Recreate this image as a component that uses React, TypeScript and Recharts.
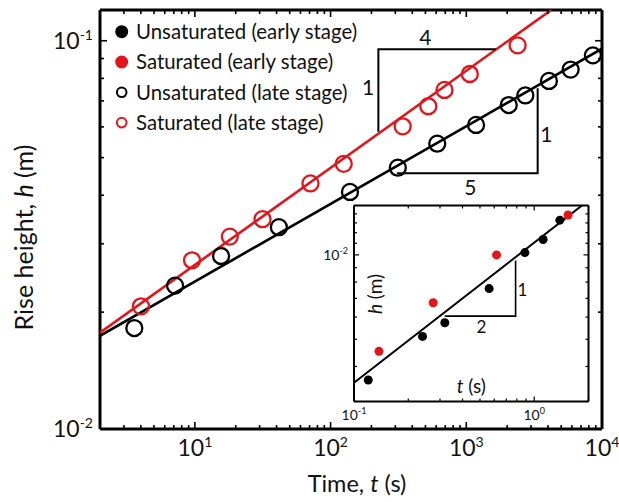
import React from 'react';
import { ScatterChart, Scatter, XAxis, YAxis, Legend } from 'recharts';

const FONT = 'Lato, "Open Sans", sans-serif';
const RED = '#e5141b';
const BLACK = '#000000';

// ---------- main chart data ----------
const unsatLateT = [3.58, 7.15, 15.6, 41.6, 139, 313, 611, 1180, 2055, 2723, 4064, 5875, 8570];
const unsatLateH = [0.0182, 0.0234, 0.0279, 0.0331, 0.0408, 0.0471, 0.0543, 0.0607, 0.0683, 0.0723, 0.0788, 0.0843, 0.0917];
const satLateT = [4.01, 9.53, 18.1, 31.5, 71.1, 125, 340, 525, 691, 1062, 2390];
const satLateH = [0.0207, 0.0272, 0.0313, 0.0347, 0.0429, 0.0482, 0.0602, 0.0678, 0.0747, 0.0821, 0.0973];
const unsatFitT = [2, 10000];
const unsatFitH = [0.01738, 0.0954];
const satFitT = [2, 4226];
const satFitH = [0.0177, 0.12];
const triUpperT = [225, 225, 1651];
const triUpperH = [0.0583, 0.0951, 0.0951];
const triLowerT = [308, 3357, 3357];
const triLowerH = [0.0456, 0.0456, 0.0754];
const slopeText = ['4', '1', '1', '5'];
const slopeT = [499, 189, 3890, 1072];
const slopeH = [0.1022, 0.076, 0.0572, 0.0418];
const mainXTicks = [2, 3, 4, 5, 6, 7, 8, 9, 10, 20, 30, 40, 50, 60, 70, 80, 90, 100, 200, 300, 400, 500, 600, 700, 800, 900, 1000, 2000, 3000, 4000, 5000, 6000, 7000, 8000, 9000, 10000];
const mainXMajor = [10, 100, 1000, 10000];
const mainYTicks = [0.01, 0.02, 0.03, 0.04, 0.05, 0.06, 0.07, 0.08, 0.09, 0.1];
const mainYMajor = [0.01, 0.1];
const legendLabels = ['Unsaturated (early stage)', 'Saturated (early stage)', 'Unsaturated (late stage)', 'Saturated (late stage)'];
const legendColors = [BLACK, RED, BLACK, RED];
const legendFilled = [true, true, false, false];

// ---------- inset data ----------
const unsatEarlyT = [0.12, 0.24, 0.319, 0.562, 0.887, 1.12, 1.387];
const unsatEarlyH = [0.00358, 0.00512, 0.00573, 0.00758, 0.01019, 0.01135, 0.0133];
const satEarlyT = [0.1376, 0.275, 0.618, 1.54];
const satEarlyH = [0.00453, 0.00675, 0.01, 0.01388];
const insetFitT = [0.1, 1.84];
const insetFitH = [0.0035, 0.015];
const insetTriT = [0.319, 0.788, 0.788];
const insetTriH = [0.00605, 0.00605, 0.00955];
const insetSlopeText = ['1', '2'];
const insetSlopeT = [0.861, 0.51];
const insetSlopeH = [0.00748, 0.00555];
const insetXTicks = [0.1, 0.2, 0.3, 0.4, 0.5, 0.6, 0.7, 0.8, 0.9, 1, 2];
const insetXMajor = [0.1, 1];
const insetYTicks = [0.003, 0.004, 0.005, 0.006, 0.007, 0.008, 0.009, 0.01, 0.011, 0.012, 0.013, 0.014];
const insetYMajor = [0.01];

const zip = (ts: number[], hs: number[]) => ts.map((t, i) => ({ t, h: hs[i] }));
const zipLabels = (ts: number[], hs: number[], txt: string[]) => ts.map((t, i) => ({ t, h: hs[i], txt: txt[i] }));

type TickCfg = {
  side: 'bottom' | 'top' | 'left' | 'right';
  majors: number[];
  majorLen: number;
  minorLen: number;
  label: boolean;
  fs: number;
  sfs: number;
  off: number;
  sw: number;
};

const isMajor = (v: number, majors: number[]) => majors.some((m) => Math.abs(m - v) / m < 1e-6);

function renderTick(p: any, c: TickCfg) {
  const { x, y, payload } = p;
  const v = payload.value;
  const maj = isMajor(v, c.majors);
  const len = maj ? c.majorLen : c.minorLen;
  let x2 = x;
  let y2 = y;
  if (c.side === 'bottom') y2 = y - len;
  if (c.side === 'top') y2 = y + len;
  if (c.side === 'left') x2 = x + len;
  if (c.side === 'right') x2 = x - len;
  let lab = null;
  if (c.label && maj) {
    const e = Math.round(Math.log10(v));
    const es = e < 0 ? '-' + Math.abs(e) : String(e);
    if (c.side === 'bottom') {
      lab = (
        <text x={x} y={y + c.off} textAnchor="middle" fontSize={c.fs} fontFamily={FONT} fill="#111">
          10<tspan dy={-c.fs * 0.4} fontSize={c.sfs}>{es}</tspan>
        </text>
      );
    } else if (c.side === 'left') {
      lab = (
        <text x={x - c.off} y={y + c.fs * 0.36} textAnchor="end" fontSize={c.fs} fontFamily={FONT} fill="#111">
          10<tspan dy={-c.fs * 0.4} fontSize={c.sfs}>{es}</tspan>
        </text>
      );
    }
  }
  return (
    <g>
      <line x1={x} y1={y} x2={x2} y2={y2} stroke={BLACK} strokeWidth={c.sw} />
      {lab}
    </g>
  );
}

const OpenCircle = (color: string, r: number, sw: number) => (p: any) =>
  p.cx == null ? <g /> : <circle cx={p.cx} cy={p.cy} r={r} fill="none" stroke={color} strokeWidth={sw} />;
const FilledCircle = (color: string, r: number) => (p: any) =>
  p.cx == null ? <g /> : <circle cx={p.cx} cy={p.cy} r={r} fill={color} />;
const NoShape = () => <g />;
const TextShape = (fs: number) => (p: any) =>
  p.cx == null ? <g /> : (
    <text x={p.cx} y={p.cy + fs * 0.36} textAnchor="middle" fontSize={fs} fontFamily={FONT} fill="#111">
      {p.payload.txt}
    </text>
  );

const LegendBox = () => (
  <svg width={280} height={125}>
    {legendLabels.map((lab, i) => {
      const cy = 16.7 + 30.3 * i;
      return (
        <g key={lab}>
          {legendFilled[i] ? (
            <circle cx={16.7} cy={cy} r={6.5} fill={legendColors[i]} />
          ) : (
            <circle cx={16.7} cy={cy} r={4.8} fill="none" stroke={legendColors[i]} strokeWidth={2} />
          )}
          <text x={31} y={cy + 7.2} fontSize={20.4} fontFamily={FONT} fill="#111">
            {lab}
          </text>
        </g>
      );
    })}
  </svg>
);

const mainAxisLine = { stroke: BLACK, strokeWidth: 3 };
const insetAxisLine = { stroke: BLACK, strokeWidth: 2 };

export default function App() {
  const mainCommonX = {
    dataKey: 't',
    type: 'number' as const,
    scale: 'log' as const,
    domain: [2, 10000],
    allowDataOverflow: true,
    ticks: mainXTicks,
    interval: 0 as const,
    tickSize: 0,
    tickMargin: 0,
    height: 1,
    axisLine: mainAxisLine,
    tickLine: false,
  };
  const mainCommonY = {
    dataKey: 'h',
    type: 'number' as const,
    scale: 'log' as const,
    domain: [0.01, 0.12],
    allowDataOverflow: true,
    ticks: mainYTicks,
    interval: 0 as const,
    tickSize: 0,
    tickMargin: 0,
    width: 1,
    axisLine: mainAxisLine,
    tickLine: false,
  };
  const insetCommonX = {
    dataKey: 't',
    type: 'number' as const,
    scale: 'log' as const,
    domain: [0.1, 2],
    allowDataOverflow: true,
    ticks: insetXTicks,
    interval: 0 as const,
    tickSize: 0,
    tickMargin: 0,
    height: 1,
    axisLine: insetAxisLine,
    tickLine: false,
  };
  const insetCommonY = {
    dataKey: 'h',
    type: 'number' as const,
    scale: 'log' as const,
    domain: [0.003, 0.015],
    allowDataOverflow: true,
    ticks: insetYTicks,
    interval: 0 as const,
    tickSize: 0,
    tickMargin: 0,
    width: 1,
    axisLine: insetAxisLine,
    tickLine: false,
  };
  const mt = { majorLen: 7, minorLen: 4, fs: 23, sfs: 14, sw: 1.6 };
  const it = { majorLen: 5, minorLen: 3, fs: 14, sfs: 9, sw: 1.2 };

  return (
    <div style={{ position: 'absolute', left: 0, top: 0, width: 619, height: 502, background: '#fff' }}>
      <ScatterChart width={619} height={502} margin={{ top: 9, right: 16, bottom: 72, left: 99 }}>
        <XAxis
          {...mainCommonX}
          xAxisId="b"
          orientation="bottom"
          tick={(p: any) => renderTick(p, { ...mt, side: 'bottom', majors: mainXMajor, label: true, off: 27 })}
          label={{
            content: (lp: any) => {
              const vb = lp.viewBox;
              return (
                <text x={vb.x + vb.width / 2 + 6} y={vb.y + 63} textAnchor="middle" fontSize={23.5} fontFamily={FONT} fill="#111">
                  Time, <tspan fontStyle="italic">t</tspan> (s)
                </text>
              );
            },
          }}
        />
        <XAxis
          {...mainCommonX}
          xAxisId="t"
          orientation="top"
          tick={(p: any) => renderTick(p, { ...mt, side: 'top', majors: mainXMajor, label: false, off: 0 })}
        />
        <YAxis
          {...mainCommonY}
          yAxisId="l"
          orientation="left"
          tick={(p: any) => renderTick(p, { ...mt, side: 'left', majors: mainYMajor, label: true, off: 7 })}
          label={{
            content: (lp: any) => {
              const vb = lp.viewBox;
              const cx = vb.x + vb.width - 67;
              const cy = vb.y + vb.height / 2 + 18;
              return (
                <text x={cx} y={cy} transform={`rotate(-90 ${cx} ${cy})`} textAnchor="middle" fontSize={25} fontFamily={FONT} fill="#111">
                  Rise height, <tspan fontStyle="italic">h</tspan> (m)
                </text>
              );
            },
          }}
        />
        <YAxis
          {...mainCommonY}
          yAxisId="r"
          orientation="right"
          tick={(p: any) => renderTick(p, { ...mt, side: 'right', majors: mainYMajor, label: false, off: 0 })}
        />
        <Legend
          layout="vertical"
          align="center"
          verticalAlign="middle"
          content={() => <LegendBox />}
          wrapperStyle={{ left: 105, top: 15, width: 280, height: 125 }}
        />
        <Scatter xAxisId="b" yAxisId="l" data={zip(unsatFitT, unsatFitH)} line={{ stroke: BLACK, strokeWidth: 2.6 }} shape={NoShape} isAnimationActive={false} legendType="none" />
        <Scatter xAxisId="b" yAxisId="l" data={zip(satFitT, satFitH)} line={{ stroke: RED, strokeWidth: 2.6 }} shape={NoShape} isAnimationActive={false} legendType="none" />
        <Scatter xAxisId="b" yAxisId="l" data={zip(triUpperT, triUpperH)} line={{ stroke: BLACK, strokeWidth: 2 }} shape={NoShape} isAnimationActive={false} legendType="none" />
        <Scatter xAxisId="b" yAxisId="l" data={zip(triLowerT, triLowerH)} line={{ stroke: BLACK, strokeWidth: 2 }} shape={NoShape} isAnimationActive={false} legendType="none" />
        <Scatter xAxisId="b" yAxisId="l" name="Unsaturated (late stage)" data={zip(unsatLateT, unsatLateH)} shape={OpenCircle(BLACK, 8, 2.3)} isAnimationActive={false} />
        <Scatter xAxisId="b" yAxisId="l" name="Saturated (late stage)" data={zip(satLateT, satLateH)} shape={OpenCircle(RED, 8, 2.3)} isAnimationActive={false} />
        <Scatter xAxisId="b" yAxisId="l" data={zipLabels(slopeT, slopeH, slopeText)} shape={TextShape(21)} isAnimationActive={false} legendType="none" />
      </ScatterChart>

      <div style={{ position: 'absolute', left: 300, top: 190 }}>
        <ScatterChart width={300} height={240} margin={{ top: 14.5, right: 10.5, bottom: 27.5, left: 53 }}>
          <XAxis
            {...insetCommonX}
            xAxisId="b"
            orientation="bottom"
            tick={(p: any) => renderTick(p, { ...it, side: 'bottom', majors: insetXMajor, label: true, off: 18.5 })}
            label={{
              content: (lp: any) => {
                const vb = lp.viewBox;
                return (
                  <text x={vb.x + vb.width / 2} y={vb.y - 9} textAnchor="middle" fontSize={19} fontFamily={FONT} fill="#111">
                    <tspan fontStyle="italic">t</tspan> (s)
                  </text>
                );
              },
            }}
          />
          <XAxis
            {...insetCommonX}
            xAxisId="t"
            orientation="top"
            tick={(p: any) => renderTick(p, { ...it, side: 'top', majors: insetXMajor, label: false, off: 0 })}
          />
          <YAxis
            {...insetCommonY}
            yAxisId="l"
            orientation="left"
            tick={(p: any) => renderTick(p, { ...it, side: 'left', majors: insetYMajor, label: true, off: 6 })}
            label={{
              content: (lp: any) => {
                const vb = lp.viewBox;
                const cx = vb.x + vb.width + 28;
                const cy = vb.y + vb.height / 2 - 9.5;
                return (
                  <text x={cx} y={cy} transform={`rotate(-90 ${cx} ${cy})`} textAnchor="middle" fontSize={19} fontFamily={FONT} fill="#111">
                    <tspan fontStyle="italic">h</tspan> (m)
                  </text>
                );
              },
            }}
          />
          <YAxis
            {...insetCommonY}
            yAxisId="r"
            orientation="right"
            tick={(p: any) => renderTick(p, { ...it, side: 'right', majors: insetYMajor, label: false, off: 0 })}
          />
          <Scatter xAxisId="b" yAxisId="l" data={zip(insetFitT, insetFitH)} line={{ stroke: BLACK, strokeWidth: 2 }} shape={NoShape} isAnimationActive={false} />
          <Scatter xAxisId="b" yAxisId="l" data={zip(insetTriT, insetTriH)} line={{ stroke: BLACK, strokeWidth: 1.6 }} shape={NoShape} isAnimationActive={false} />
          <Scatter xAxisId="b" yAxisId="l" name="Unsaturated (early stage)" data={zip(unsatEarlyT, unsatEarlyH)} shape={FilledCircle(BLACK, 4.5)} isAnimationActive={false} />
          <Scatter xAxisId="b" yAxisId="l" name="Saturated (early stage)" data={zip(satEarlyT, satEarlyH)} shape={FilledCircle(RED, 4.5)} isAnimationActive={false} />
          <Scatter xAxisId="b" yAxisId="l" data={zipLabels(insetSlopeT, insetSlopeH, insetSlopeText)} shape={TextShape(17)} isAnimationActive={false} />
        </ScatterChart>
      </div>
    </div>
  );
}
